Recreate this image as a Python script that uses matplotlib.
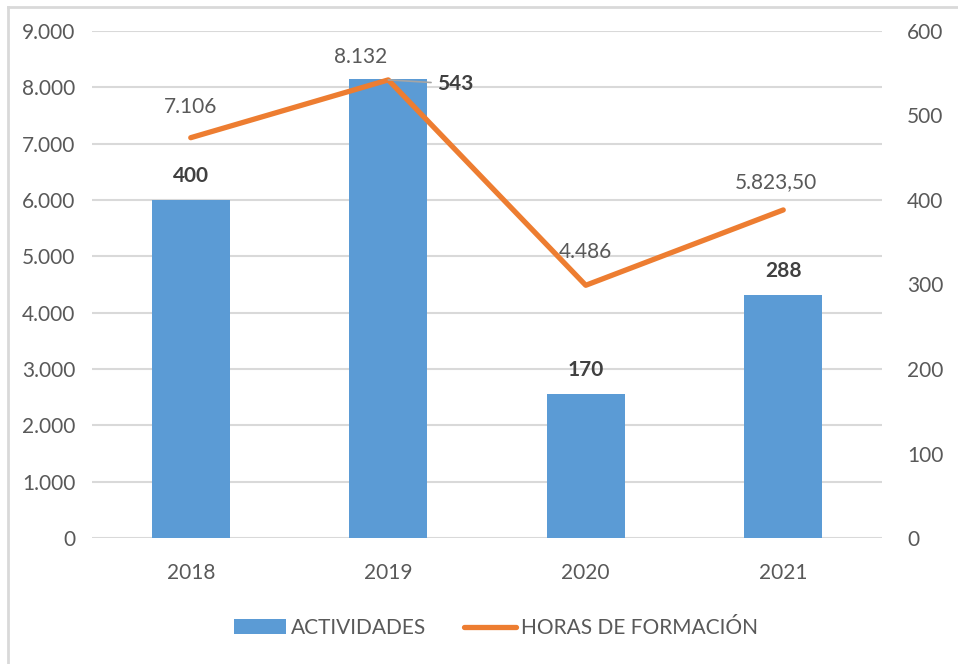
import matplotlib
matplotlib.use("Agg")
import matplotlib.pyplot as plt
from matplotlib.lines import Line2D
from matplotlib.patches import Patch
from matplotlib.ticker import FuncFormatter

years = ["2018", "2019", "2020", "2021"]
actividades = [400, 543, 170, 288]
horas = [7106, 8132, 4486, 5823.5]
horas_labels = ["7.106", "8.132", "4.486", "5.823,50"]

blue = "#5B9BD5"
orange = "#ED7D31"
grey = "#595959"
grid = "#D9D9D9"
fs = 15

plt.rcParams['font.family'] = ['Lato', 'DejaVu Sans']

fig = plt.figure(figsize=(9.58, 6.64), dpi=100)
rect = [92/958, 1-538/664, 790/958, 507/664]
ax = fig.add_axes(rect)      # left scale + grid
ax2 = ax.twinx()             # right scale, bars
ax3 = ax.twinx()             # line, uses left scale

x = list(range(len(years)))

ax.set_ylim(0, 9000)
ax.set_yticks(range(0, 9001, 1000))
ax.yaxis.set_major_formatter(FuncFormatter(lambda v, p: f"{int(v):,}".replace(",", ".")))
ax.set_xlim(-0.5, 3.5)
ax.set_xticks(x)
ax.set_xticklabels(years)
ax.grid(axis='y', color=grid, linewidth=1.5)

ax2.set_ylim(0, 600)
ax2.set_yticks(range(0, 601, 100))
ax3.set_ylim(0, 9000)
ax3.set_yticks([])

ax2.bar(x, actividades, width=0.395, color=blue, zorder=2)

for a in (ax, ax2, ax3):
    for s in a.spines.values():
        s.set_visible(False)
    a.tick_params(length=0, labelsize=fs, labelcolor=grey)
ax.tick_params(axis='y', pad=12)
ax.tick_params(axis='x', pad=18)
ax2.tick_params(axis='y', pad=18)

ax3.plot(x, horas, color=orange, linewidth=3.8, solid_capstyle='round', zorder=3)

label_offsets = [(0, 15), (-20, 9), (0, 17), (-5, 13)]
for i, v in enumerate(horas):
    ax3.annotate(horas_labels[i], (i, v), xytext=label_offsets[i], textcoords='offset points',
                 ha='center', va='bottom', fontsize=fs, color=grey)

for i, v in enumerate(actividades):
    if i == 1:
        ax3.annotate(str(v), (i, horas[i]), xytext=(i + 0.245, 8060), textcoords='data',
                     ha='left', va='center', fontsize=fs, color="#404040", fontweight='bold',
                     arrowprops=dict(arrowstyle='-', color="#A5A5A5", lw=1.2,
                                     shrinkA=2, shrinkB=0))
    else:
        ax2.annotate(str(v), (i, v), xytext=(0, 10), textcoords='offset points',
                     ha='center', va='bottom', fontsize=fs, color="#404040", fontweight='bold')

handles = [Patch(facecolor=blue, edgecolor='none'),
           Line2D([0], [0], color=orange, linewidth=3.8, solid_capstyle='round')]
fig.legend(handles, ["ACTIVIDADES", "HORAS DE FORMACIÓN"], loc='center',
           bbox_to_anchor=(496/958, 1-628/664), ncol=2, frameon=False, fontsize=fs,
           labelcolor=grey, handlelength=2.5, handletextpad=0.25, columnspacing=1.8)

# light frame of the chart area
fig.add_artist(Line2D([8/958, 8/958], [0, 1-7/664], color=grid, linewidth=2,
                      transform=fig.transFigure))
fig.add_artist(Line2D([8/958, 1], [1-7/664, 1-7/664], color=grid, linewidth=2,
                      transform=fig.transFigure))

fig.savefig("out.png", dpi=100)
